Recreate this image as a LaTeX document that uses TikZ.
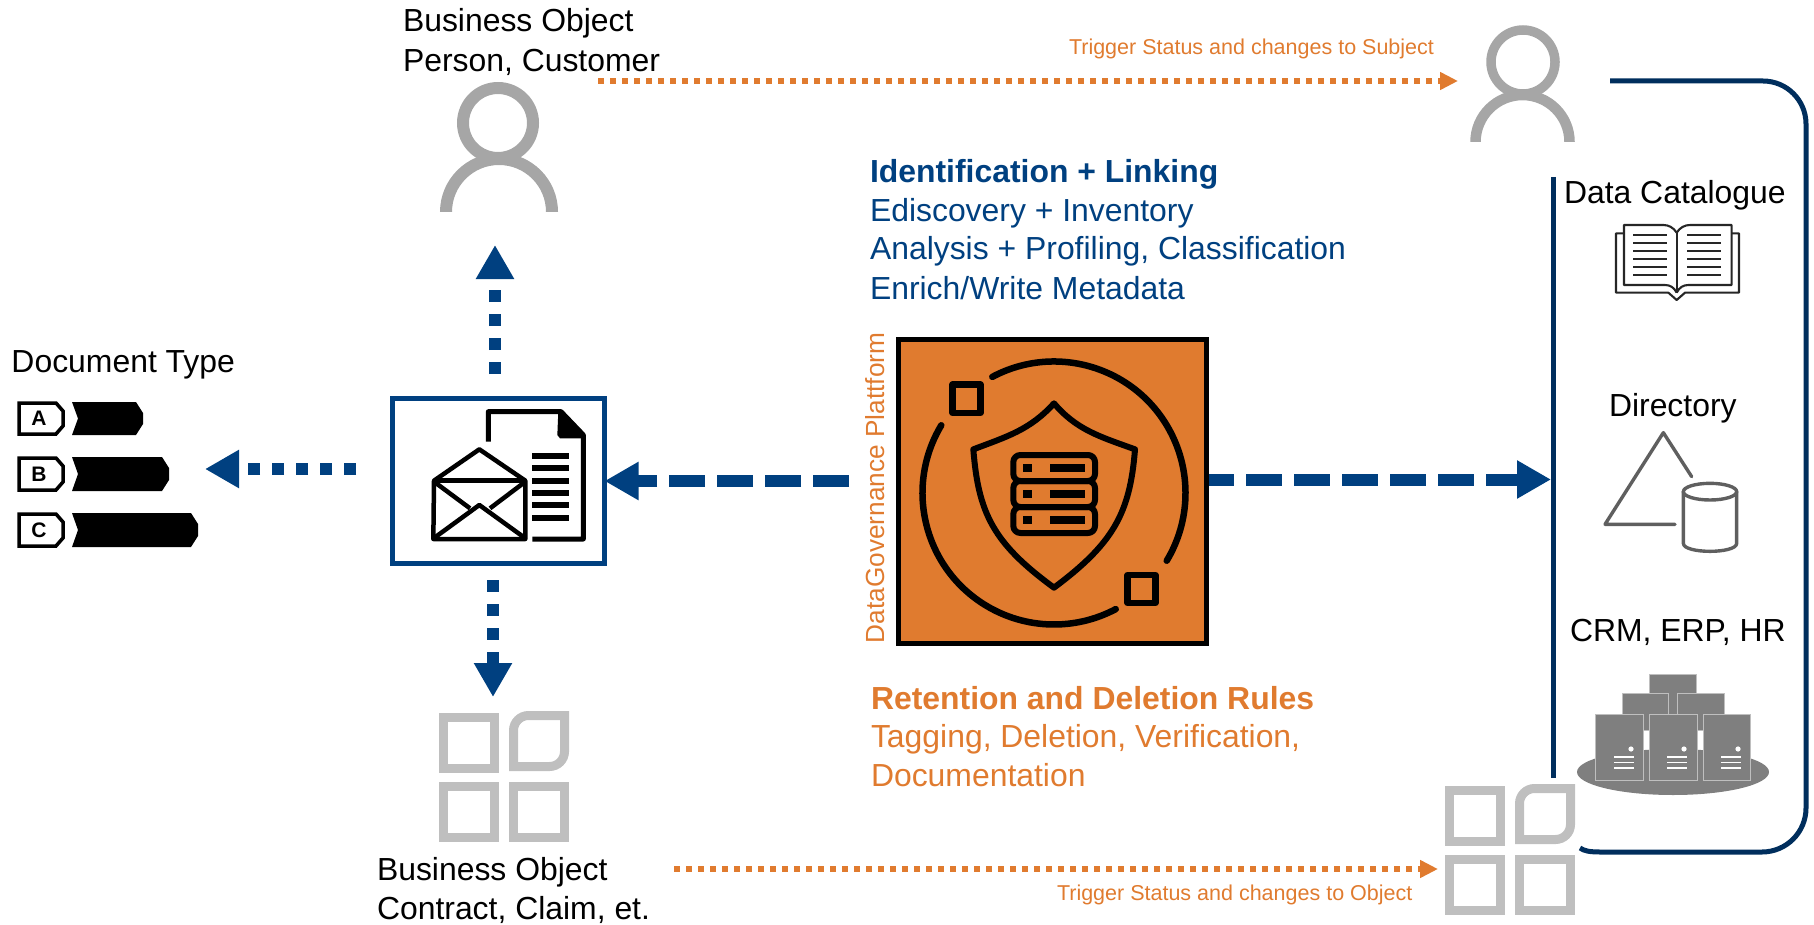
\documentclass[tikz,border=0pt]{standalone}
\usepackage{fontspec}
\setmainfont{Liberation Sans}
\usetikzlibrary{arrows.meta}
\definecolor{flowblue}{HTML}{004080}
\definecolor{navy}{HTML}{002E5D}
\definecolor{orng}{HTML}{E07B2F}
\definecolor{objgrey}{HTML}{BFBFBF}
\definecolor{persongrey}{HTML}{A6A6A6}
\definecolor{srvgrey}{HTML}{7F7F7F}
\definecolor{dirgrey}{HTML}{5F5F5F}
\newcommand{\fs}[1]{\fontsize{#1pt}{#1pt}\selectfont}
\tikzset{
  x=1pt,y=-1pt,
  lbl/.style={anchor=base west,inner sep=0pt,outer sep=0pt,text=black,font=\fs{31.9}},
  bluelbl/.style={lbl,text=flowblue},
  orlbl/.style={lbl,text=orng},
  smallor/.style={lbl,text=orng,font=\fs{21.5}},
  dotflow/.style={draw=flowblue,line width=12pt,dash pattern=on 12pt off 12pt,-{Triangle[length=34pt,width=36pt,fill=flowblue]}},
  dashflow/.style={draw=flowblue,line width=12pt,dash pattern=on 36pt off 12pt,-{Triangle[length=34pt,width=36pt,fill=flowblue]}},
  trigger/.style={draw=orng,line width=6pt,dash pattern=on 6pt off 6pt,-{Triangle[length=18pt,width=17pt,fill=orng]}},
  platform/.style={draw=navy,line width=5pt},
  ic/.style={draw=black,line width=6.5pt,line join=round},
  envl/.style={draw=black,line width=4.5pt,line join=round},
  objcell/.style={draw=objgrey,line width=9pt},
  srvbox/.style={fill=srvgrey,draw=objgrey,line width=1pt},
  srvln/.style={draw=white,line width=1.3pt},
  doctag/.style={draw=black,line width=3.5pt,fill=white},
  bookl/.style={draw=black!85,line width=2.1pt,line join=round},
  dirl/.style={draw=dirgrey,line width=3.4pt,line cap=round,line join=round},
}
\newcommand{\objgrid}[2]{%
  \begin{scope}[shift={(#1,#2)}]
    \draw[objcell] (4.5,6.5) rectangle (55.5,57.5);
    \draw[objcell] (89.5,4.5) -- (125.5,4.5) -- (125.5,40.5) arc[start angle=0,end angle=90,radius=15] -- (74.5,55.5) -- (74.5,19.5) arc[start angle=180,end angle=270,radius=15] -- cycle;
    \draw[objcell] (4.5,75.5) rectangle (55.5,126.5);
    \draw[objcell] (74.5,75.5) rectangle (125.5,126.5);
  \end{scope}}
\newcommand{\srvunit}[1]{%
  \begin{scope}[shift={(#1,0)}]
    \fill[white] (1631,749) circle[radius=2.6pt];
    \draw[srvln] (1614,757) -- (1634,757) (1614,762.5) -- (1634,762.5) (1614,768) -- (1634,768);
  \end{scope}}
\newcommand{\doctagshape}[3]{% y top, y bottom, bar end
  \draw[doctag] (19,#1) -- (56,#1) -- (63,#1+8) -- (63,#2-8) -- (56,#2) -- (19,#2) -- cycle;
  \fill[black] (72,#1-1) -- (#3-7,#1-1) -- (#3,#1+10) -- (#3,#2-10) -- (#3-7,#2+1) -- (72,#2+1) -- (78,#1/2+#2/2) -- cycle;
  }
\begin{document}
\begin{tikzpicture}
\useasboundingbox (0,0) rectangle (1814,925);

% ----- texts
\node[lbl] (bo1a) at (403,32) {Business Object};
\node[lbl] (bo1b) at (403,72) {Person, Customer};
\node[lbl] (doctype) at (11.5,372) {Document Type};
\node[bluelbl,font=\fs{31.9}\bfseries] (idh) at (870,183) {Identification + Linking};
\node[bluelbl] (id1) at (870,222) {Ediscovery + Inventory};
\node[bluelbl] (id2) at (870,260) {Analysis + Profiling, Classification};
\node[bluelbl] (id3) at (870,299) {Enrich/Write Metadata};
\node[orlbl,font=\fs{31.9}\bfseries] (reth) at (871,709) {Retention and Deletion Rules};
\node[orlbl] (ret1) at (871,747) {Tagging, Deletion, Verification,};
\node[orlbl] (ret2) at (871,786) {Documentation};
\node[lbl] (bo2a) at (377,880) {Business Object};
\node[lbl] (bo2b) at (377,919) {Contract, Claim, et.};
\node[lbl] (dc) at (1564,204) {Data Catalogue};
\node[lbl] (dir) at (1609,416) {Directory};
\node[lbl] (crm) at (1570,641) {CRM, ERP, HR};
\node[smallor] (trs) at (1069,55) {Trigger Status and changes to Subject};
\node[smallor] (tro) at (1057,900) {Trigger Status and changes to Object};
\node[lbl,text=orng,font=\fs{26.2},rotate=90] (dgp) at (884,643) {DataGovernance Plattform};

% ----- person icons
\draw[draw=persongrey,line width=12pt] (498,123) circle[radius=35];
\begin{scope}
  \clip (430,140) rectangle (570,212);
  \draw[draw=persongrey,line width=12pt] (499,212) circle[radius=53];
\end{scope}
\draw[draw=persongrey,line width=9.5pt] (1523,62) circle[radius=32];
\begin{scope}
  \clip (1460,80) rectangle (1585,142);
  \draw[draw=persongrey,line width=10.5pt] (1522.5,142) circle[radius=47];
\end{scope}

% ----- object grids
\objgrid{439}{711}
\objgrid{1445}{784}

% ----- document types
\doctagshape{403}{434}{143}
\doctagshape{458}{490}{169}
\doctagshape{514}{546}{198}
\node[inner sep=0pt,font=\fs{21}\bfseries] (lta) at (39,418.5) {A};
\node[inner sep=0pt,font=\fs{21}\bfseries] (ltb) at (39,474) {B};
\node[inner sep=0pt,font=\fs{21}\bfseries] (ltc) at (39,530) {C};

% ----- message box
\node[draw=flowblue,line width=5pt,fill=white,minimum width=212pt,minimum height=165pt,inner sep=0pt] (msg) at (498,481) {};
\begin{scope}[shift={(380,390)},x=1/3*1pt,y=-1/3*1pt]
  \draw[envl] (162,272) -- (298,178) -- (436,272) -- (436,447) -- (160,447) -- cycle;
  \draw[envl] (162,272) -- (436,272);
  \draw[envl] (162,275) -- (270,355);
  \draw[envl] (436,275) -- (330,355);
  \draw[envl] (165,442) -- (298,345) -- (432,442);
  \draw[draw=black,line width=5pt,line join=round] (325,155) -- (325,65) -- (543,65) -- (610,135) -- (610,447) -- (457,447);
  \fill[black] (535,62) -- (548,62) -- (613,130) -- (613,145) -- (540,145) -- (532,135) -- cycle;
  \foreach \yy in {197,234,272,309,346,384}
    \draw[draw=black,line width=6pt] (457,\yy) -- (568,\yy);
\end{scope}

% ----- platform box
\node[draw=black,line width=5.5pt,fill=orng,minimum width=308pt,minimum height=304pt,inner sep=0pt] (plat) at (1052.5,491.5) {};
\draw[ic,line cap=round] ([shift={(-118:131.5)}]1054,493) arc[start angle=-118,end angle=31,radius=131.5];
\draw[ic,line cap=round] ([shift={(-149:131.5)}]1054,493) arc[start angle=-149,end angle=-298,radius=131.5];
\begin{scope}[shift={(850,320)},x=1/3*1pt,y=-1/3*1pt]
  \draw[ic] (308,194) rectangle (391,279);
  \draw[ic] (833,765) rectangle (916,849);
  \draw[ic,line width=6pt] (612,250) .. controls (540,330) and (470,350) .. (370,388) .. controls (385,580) and (430,670) .. (612,803)
     .. controls (790,670) and (840,580) .. (855,388) .. controls (750,350) and (680,330) .. (612,250) -- cycle;
  \foreach \yt in {405,483,561}{
    \draw[ic,line width=6pt,rounded corners=7pt] (490,\yt) rectangle (735,\yt+78);
    \fill[black] (520,\yt+27) rectangle (545,\yt+50);
    \fill[black] (600,\yt+27) rectangle (705,\yt+50);
  }
\end{scope}

% ----- platform container
\coordinate (pltop) at (1553,177);
\coordinate (plbot) at (1553,778);
\draw[platform] (pltop) -- (plbot);
\coordinate (ctop) at (1610,81);
\coordinate (cbot) at (1580,848);
\draw[platform] (ctop) -- (1763,81) arc[start angle=-90,end angle=0,radius=43] -- (1806,808) arc[start angle=0,end angle=90,radius=44] -- (1600,852) .. controls (1590,852) and (1584,851) .. (cbot);

% ----- book
\begin{scope}[shift={(1420,150)},x=1/3*1pt,y=-1/3*1pt]
  \draw[bookl] (612,250) -- (588,250) -- (588,428) -- (745,428) -- (770,450) -- (795,428) -- (957,428) -- (957,250) -- (935,250);
  \draw[bookl] (770,248) .. controls (760,232) and (745,225) .. (730,225) -- (612,225) -- (612,405) -- (735,405) .. controls (750,405) and (762,412) .. (770,428);
  \draw[bookl] (770,248) .. controls (780,232) and (795,225) .. (810,225) -- (935,225) -- (935,405) -- (805,405) .. controls (790,405) and (778,412) .. (770,428);
  \draw[bookl] (770,248) -- (770,428);
  \foreach \yy in {255,278,302,327,352,376}{
    \draw[bookl] (640,\yy) -- (742,\yy);
    \draw[bookl] (802,\yy) -- (902,\yy);
  }
  % directory
  \draw[dirl] (815,980) -- (730,848) -- (555,1123) -- (765,1123);
  \draw[dirl] (790,1025) -- (790,1180) .. controls (790,1212) and (950,1212) .. (950,1180) -- (950,1025);
  \draw[dirl] (870,1025) ellipse[x radius=80,y radius=25];
\end{scope}

% ----- servers
\fill[srvgrey] (1673,772) ellipse[x radius=96,y radius=23];
\draw[srvbox] (1649,674) rectangle (1696,730);
\draw[srvbox] (1622,693) rectangle (1668,730);
\draw[srvbox] (1677,693) rectangle (1724,730);
\draw[srvbox] (1595,714) rectangle (1643,780);
\draw[srvbox] (1649,714) rectangle (1697,780);
\draw[srvbox] (1703,714) rectangle (1750,780);
\srvunit{0}\srvunit{53}\srvunit{107}

% ----- connectors
\coordinate (tsa) at (598,81);
\coordinate (tsb) at (1458,81);
\draw[trigger] (tsa) -- (tsb);
\coordinate (toa) at (674,869);
\coordinate (tob) at (1438,869);
\draw[trigger] (toa) -- (tob);

\coordinate (upa) at (495,374);
\coordinate (upb) at (495,245);
\draw[dotflow] (upa) -- (upb);
\coordinate (dna) at (493,580);
\coordinate (dnb) at (493,697);
\draw[dotflow] (dna) -- (dnb);
\coordinate (lfa) at (356,469);
\coordinate (lfb) at (205,469);
\draw[dotflow] (lfa) -- (lfb);
\coordinate (msgin) at (849,481);
\draw[dashflow,shorten >=-2pt] (msgin) -- (msg.east);
\coordinate (rttip) at (1551,479.5);
\draw[dashflow,dash phase=11pt] (plat.east |- rttip) -- (rttip);
\end{tikzpicture}
\end{document}
